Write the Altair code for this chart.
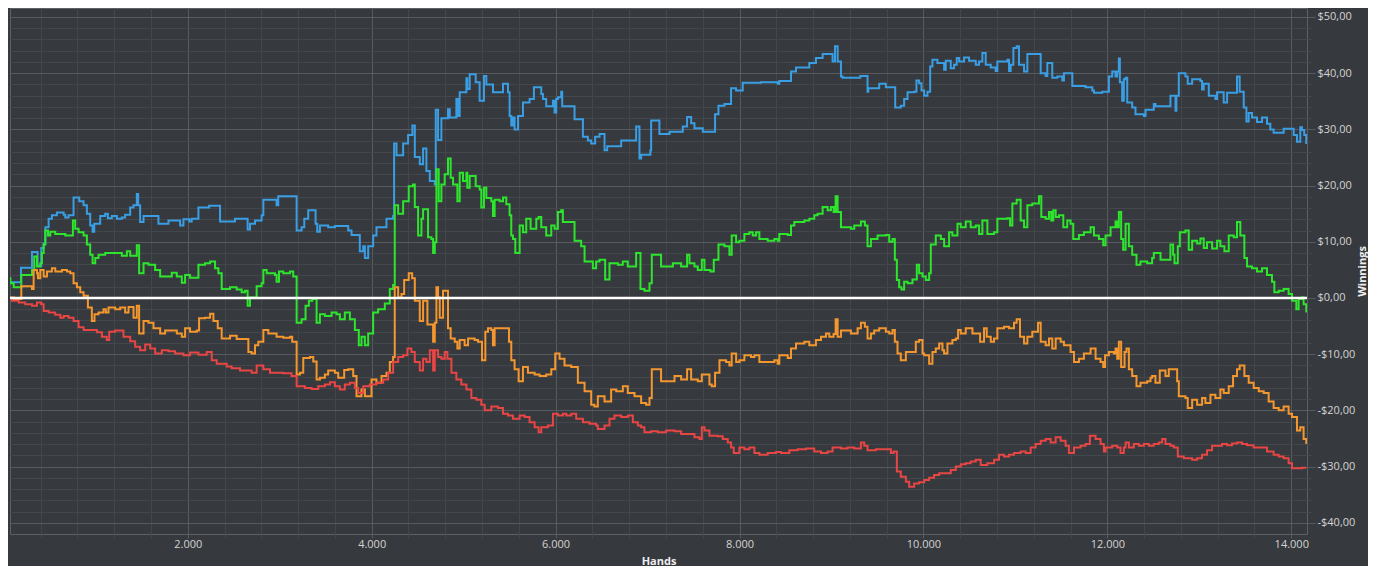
import altair as alt
import pandas as pd

# ---- data (hands, winnings in $) ----
BLUE = [(15,2.8),(186,5.4),(306,8.2),(367,5.7),(407,8.9),(433,9.7),(451,12.6),(487,14.1),(523,14.7),(577,15.2),(650,14.8),(668,14.3),(704,14.7),(758,17.9),(820,17.2),(867,16.5),(903,15.0),(939,12.9),(965,11.8),(983,13.2),(1048,14.6),(1102,15.0),(1131,14.2),(1175,14.6),(1229,14.1),(1283,14.3),(1319,14.8),(1374,16.1),(1410,16.5),(1446,18.5),(1461,16.5),(1482,13.5),(1519,14.6),(1681,13.2),(1790,13.8),(1917,12.9),(1953,14.0),(2018,13.6),(2043,14.1),(2116,16.1),(2232,16.4),(2351,13.6),
(2514,14.1),(2651,12.2),(2677,13.2),(2731,13.8),(2803,14.7),(2822,17.5),(2966,16.5),(2984,18.1),(3184,12.0),(3238,12.6),(3267,14.1),(3310,15.6),(3390,13.2),(3408,11.8),(3437,12.9),(3527,12.6),(3600,12.8),(3745,12.0),(3781,11.2),(3871,8.3),(3908,9.2),(3926,7.1),(3962,9.2),(4016,11.1),(4052,12.6),(4161,14.1),(4233,14.6),(4244,27.5),(4270,25.4),(4342,27.5),(4396,29.0),(4443,30.7),(4469,25.1),(4523,23.8),(4559,26.6),(4595,22.6),(4632,20.8),(4686,20.2),(4697,33.5),(4722,28.1),(4758,32.0),
(4830,33.6),(4849,32.1),(4921,35.4),(4939,32.4),(4957,36.6),(5030,39.1),(5040,37.2),(5066,39.8),(5131,38.4),(5174,35.1),(5221,39.5),(5247,38.0),(5319,36.6),(5428,38.1),(5482,36.6),(5500,32.4),(5518,30.7),(5536,32.1),(5554,30.0),(5591,32.4),(5645,34.8),(5717,35.4),(5764,37.5),(5844,36.3),(5862,35.4),(5898,34.1),(5971,35.1),(5989,33.0),(6007,35.4),(6025,35.7),(6061,36.7),(6072,34.1),(6206,31.8),(6297,28.7),(6351,28.0),(6387,27.5),(6430,28.7),(6478,29.2),(6532,26.3),(6561,27.0),(6713,28.0),(6876,30.5),(6912,24.8),(6930,25.5),(7031,26.3),(7039,31.6),(7129,29.2),
(7239,29.6),(7383,30.5),(7430,32.2),(7474,31.1),(7510,30.2),(7601,29.6),(7734,32.7),(7771,34.2),(7836,34.5),(7908,37.3),(7963,36.9),(8035,38.3),(8234,38.4),(8415,38.1),(8433,38.6),(8560,40.3),(8614,41.0),(8759,41.8),(8831,42.7),(8904,43.4),(9012,42.1),(9038,44.8),(9067,42.1),(9103,39.4),(9121,39.2),(9313,39.5),(9392,36.7),(9400,37.3),(9519,38.1),
(9591,37.5),(9693,33.9),(9754,34.2),(9790,35.4),(9827,36.6),(9899,36.7),(9924,38.7),(9953,38.2),(9979,36.9),(10008,36.0),(10044,36.7),(10073,41.2),(10098,42.4),(10152,41.8),(10225,40.6),(10243,42.2),(10297,40.9),(10333,41.5),(10362,42.7),(10388,42.1),(10442,42.8),(10496,42.2),(10569,41.5),(10605,42.1),(10641,43.6),(10677,41.5),(10732,41.0),(10786,40.4),(10804,42.1),(10913,42.4),(10931,40.4),(10949,41.5),(10978,44.5),(11014,44.8),(11039,41.5),(11094,40.3),(11130,43.4),(11257,43.4),(11275,40.0),(11329,39.5),(11347,41.8),(11401,39.2),(11456,39.4),(11510,38.7),(11528,40.0),(11619,37.7),(11763,37.5),(11836,36.9),(11854,36.5),(11944,36.7),
(12017,39.4),(12053,40.3),(12089,39.4),(12107,40.3),(12125,42.6),(12136,38.4),(12161,35.1),(12179,38.9),(12198,39.2),(12216,34.8),(12270,33.9),(12306,32.7),(12397,32.4),(12415,33.5),(12505,34.5),(12523,34.1),(12686,36.0),(12741,33.3),(12751,36.0),(12777,40.0),(12849,39.4),(12874,38.1),(12922,38.9),(13012,38.6),(13030,37.1),(13048,38.1),(13103,36.0),(13175,35.4),(13193,36.6),(13265,34.8),(13302,36.5),(13410,39.4),(13439,36.7),(13483,33.9),(13512,31.4),(13537,32.9),(13573,32.1),(13627,31.3),(13682,32.1),(13736,31.0),(13772,30.0),(13808,29.4),(13917,30.1),(14026,29.0),(14062,27.8),(14098,30.4),(14116,29.9),(14141,29.0),(14163,27.4)]

GREEN = [(15,3.5),(71,2.6),(107,1.9),(190,4.1),(306,5.0),(331,7.4),(360,5.6),(396,6.2),(414,8.0),(433,9.5),(451,12.0),(480,11.1),(505,11.8),(559,11.4),(668,11.1),(751,13.8),(776,12.3),(813,11.7),(867,11.1),(903,9.5),(939,7.7),(965,6.2),(994,7.1),(1030,7.7),(1102,8.0),(1283,7.5),(1338,8.3),(1374,7.5),(1446,9.4),(1471,4.4),(1519,6.2),(1573,5.9),(1645,5.0),(1700,3.8),(1826,4.5),(1881,3.8),(1935,2.7),(1971,4.1),(2025,3.6),(2116,5.9),(2188,6.2),(2243,6.5),(2297,5.3),(2333,4.4),(2369,1.6),
(2460,1.9),(2532,1.5),(2586,1.0),(2622,1.3),(2651,-1.4),(2677,0.1),(2749,2.1),(2803,2.6),(2822,5.0),(2858,4.4),(2948,4.1),(2966,2.9),(2992,4.7),(3039,4.4),(3111,4.7),(3147,3.8),(3184,-4.4),(3238,-3.8),(3281,-1.4),(3317,-0.5),(3354,-0.2),(3401,-4.4),(3437,-2.9),(3491,-3.2),(3564,-2.6),(3618,-2.9),(3654,-3.8),(3708,-2.6),(3763,-3.8),(3817,-5.7),(3860,-8.4),(3889,-6.9),(3926,-8.4),(3962,-6.3),(4016,-2.6),(4070,-2.0),(4143,-1.0),(4197,1.6),(4233,2.3),(4251,16.5),(4288,15.0),(4342,17.2),(4403,19.9),(4450,20.2),(4469,16.2),(4505,11.1),(4541,14.1),(4559,15.8),(4613,10.8),(4650,10.5),(4668,8.0),(4686,9.9),(4704,22.9),(4729,17.2),(4758,20.2),(4794,22.0),
(4830,24.8),(4859,21.4),(4885,20.2),(4932,17.2),(4957,22.3),(4993,20.8),(5030,22.3),(5040,19.6),(5066,21.7),(5131,19.9),(5174,19.3),(5192,16.1),(5221,19.6),(5247,17.8),(5301,17.2),(5319,14.6),(5337,17.5),(5392,17.2),(5428,17.9),(5464,16.7),(5500,14.7),(5518,11.1),(5536,10.5),(5562,8.0),(5609,12.9),(5645,11.7),(5681,14.1),(5728,12.3),(5790,14.1),(5815,14.4),(5844,12.6),(5898,11.1),(5953,12.9),(5989,12.3),(6025,15.3),(6061,15.6),(6079,13.5),(6206,10.2),(6278,9.2),(6315,6.5),(6405,5.3),(6441,6.5),(6478,6.8),(6539,3.3),(6586,6.2),(6677,5.9),(6731,6.5),(6785,5.6),(6876,8.0),(6923,1.6),(6966,1.3),(7021,2.6),(7046,7.7),(7147,5.6),
(7275,6.2),(7365,5.6),(7430,7.7),(7456,6.2),(7510,5.6),(7546,5.0),(7590,6.8),(7619,5.0),(7684,4.7),(7720,6.8),(7771,9.5),(7836,9.2),(7890,7.7),(7915,11.1),(7963,9.9),(7999,10.2),(8053,11.4),(8107,11.7),(8144,11.1),(8180,11.7),(8216,10.5),(8306,10.2),(8379,10.5),(8415,10.2),(8433,11.4),(8524,11.2),(8560,12.9),(8596,13.5),(8705,13.8),(8759,14.1),(8813,14.7),(8849,15.0),(8904,16.2),(8958,15.6),(8994,16.2),(9023,15.3),(9045,18.1),(9067,15.3),(9103,12.6),(9211,12.3),(9248,12.9),(9320,13.6),(9363,12.9),(9392,9.2),(9429,10.5),(9501,11.1),
(9591,11.2),(9628,10.0),(9664,10.5),(9689,6.8),(9711,3.2),(9736,1.9),(9761,1.5),(9790,2.9),(9827,2.6),(9881,3.3),(9928,5.9),(9953,4.4),(9990,3.8),(10026,3.2),(10062,4.4),(10080,9.5),(10134,11.1),(10189,10.5),(10225,9.2),(10279,11.7),(10315,11.1),(10370,13.2),(10406,12.6),(10460,13.6),(10514,12.6),(10569,12.9),(10605,11.4),(10641,13.8),(10695,11.4),(10768,11.7),(10804,14.1),(10913,14.2),(10942,12.9),(10967,16.8),(11014,17.5),(11057,13.8),(11094,12.6),(11130,16.5),(11184,16.8),(11257,18.1),(11282,14.4),(11329,14.1),(11365,15.3),(11390,13.8),(11412,15.6),(11438,14.4),(11474,14.7),(11521,12.6),(11564,13.8),(11600,13.2),(11629,10.5),(11691,11.2),(11745,11.7),(11818,12.6),(11854,11.1),(11908,10.5),(11955,9.4),
(11980,11.1),(12035,12.6),(12089,13.6),(12107,12.6),(12125,15.3),(12150,10.5),(12172,8.6),(12198,13.2),(12234,9.2),(12270,7.7),(12317,5.9),(12360,6.5),(12433,6.2),(12487,7.1),(12505,8.0),(12578,6.8),(12686,9.5),(12715,7.7),(12730,6.2),(12766,9.2),(12788,11.7),(12849,12.0),(12885,8.6),(12922,10.2),(12976,9.7),(13012,10.6),(13048,8.9),(13084,9.9),(13139,8.8),(13193,10.2),(13229,9.2),(13273,8.3),(13320,11.1),(13374,10.8),(13410,13.5),(13446,11.1),(13490,7.1),(13519,5.6),(13573,5.3),(13627,4.7),(13682,5.3),(13736,4.1),(13790,2.9),(13816,1.0),(13863,1.3),(13917,1.6),(13971,0.7),(14008,-0.5),(14055,-2.0),(14080,-0.2),(14116,0.1),(14134,-1.1),(14163,-2.6)]

ORANGE = [(15,-0.8),(52,0.1),(107,-0.2),(190,2.1),(306,1.6),(324,5.0),(360,4.4),(371,3.5),(396,5.0),(433,3.8),(469,4.7),(523,5.3),(559,4.7),(632,5.0),(686,4.7),(722,4.4),(758,2.6),(795,1.9),(831,1.0),(867,0.4),(914,-1.7),(957,-4.1),(986,-2.9),(1030,-2.6),(1084,-2.0),(1109,-2.6),(1138,-1.7),(1211,-2.0),(1265,-1.7),(1319,-2.6),(1356,-1.6),(1410,-3.5),(1446,-1.4),(1471,-6.3),(1519,-4.1),(1573,-4.4),(1627,-5.4),(1700,-6.3),(1754,-5.8),(1881,-6.3),(1935,-6.9),(1971,-5.4),(2025,-6.0),(2098,-5.8),(2123,-3.6),(2188,-3.5),(2243,-2.8),(2279,-4.1),(2326,-5.4),(2369,-7.2),
(2460,-6.7),(2532,-7.3),(2659,-9.6),(2695,-9.9),(2731,-8.4),(2767,-7.8),(2822,-5.7),(2876,-6.3),(2966,-6.9),(3039,-7.1),(3111,-6.9),(3136,-7.8),(3184,-13.6),(3220,-13.3),(3256,-10.7),(3328,-10.5),(3365,-11.3),(3401,-14.5),(3437,-14.2),(3491,-13.6),(3527,-12.9),(3600,-13.3),(3636,-14.2),(3701,-12.8),(3745,-12.7),(3799,-13.9),(3835,-17.5),(3889,-16.3),(3926,-17.5),(3998,-14.5),(4052,-15.1),(4107,-13.9),(4161,-13.3),(4197,-11.4),(4233,-10.5),(4251,1.9),(4288,0.1),(4324,0.7),(4353,3.2),(4403,4.4),(4440,3.5),(4469,-0.5),(4523,-4.1),(4559,-0.5),(4606,-4.7),(4668,-7.8),(4686,-4.4),(4704,1.9),(4722,0.1),(4740,-3.5),(4776,1.3),
(4830,-5.4),(4859,-7.2),(4903,-7.8),(4932,-9.0),(4957,-7.5),(5011,-8.4),(5048,-7.2),(5120,-7.5),(5156,-7.8),(5200,-11.1),(5236,-6.0),(5265,-5.4),(5301,-5.7),(5319,-8.4),(5337,-5.4),(5464,-5.4),(5493,-7.8),(5518,-11.1),(5554,-12.7),(5598,-14.8),(5645,-12.3),(5699,-13.3),(5772,-13.6),(5826,-13.9),(5898,-13.6),(5953,-12.7),(5996,-9.9),(6043,-10.8),(6097,-12.0),(6170,-12.3),(6242,-15.1),(6315,-16.6),(6387,-19.0),(6423,-19.3),(6459,-17.5),(6532,-18.4),(6604,-16.3),(6659,-16.6),(6731,-15.7),(6785,-16.9),(6858,-17.5),(6930,-18.7),(6984,-19.0),(7021,-17.8),(7046,-12.7),(7147,-14.8),
(7293,-13.9),(7365,-14.5),(7430,-12.7),(7474,-14.5),(7546,-14.8),(7590,-13.6),(7673,-15.4),(7698,-15.7),(7734,-13.3),(7782,-11.1),(7854,-11.4),(7890,-12.0),(7915,-9.9),(7963,-11.4),(7999,-11.1),(8053,-10.2),(8125,-10.5),(8162,-10.2),(8216,-11.4),(8379,-11.1),(8415,-11.7),(8433,-10.2),(8524,-10.7),(8560,-9.0),(8614,-8.1),(8705,-7.8),(8759,-8.4),(8831,-7.5),(8886,-6.9),(8940,-6.3),(8976,-6.9),(9023,-6.4),(9045,-3.8),(9067,-6.9),(9103,-5.8),(9211,-6.3),(9284,-5.4),(9320,-4.4),(9363,-5.1),(9392,-7.2),(9429,-6.3),(9465,-5.8),(9519,-5.4),
(9591,-6.0),(9628,-6.3),(9664,-5.7),(9689,-7.8),(9718,-9.9),(9754,-11.1),(9809,-9.6),(9917,-7.8),(9953,-7.5),(9990,-9.9),(10008,-10.2),(10062,-11.7),(10098,-9.6),(10134,-9.0),(10171,-8.1),(10207,-9.3),(10225,-9.9),(10261,-8.1),(10315,-7.5),(10352,-7.2),(10377,-5.7),(10406,-6.3),(10460,-5.4),(10533,-6.3),(10616,-7.8),(10659,-5.4),(10688,-6.9),(10732,-7.8),(10768,-7.2),(10804,-5.4),(10876,-5.1),(10931,-5.4),(10985,-4.4),(11014,-3.8),(11050,-6.9),(11094,-8.1),(11130,-6.9),(11184,-6.0),(11246,-4.4),(11275,-7.8),(11329,-8.4),(11365,-7.2),(11401,-9.0),(11438,-7.2),(11492,-7.8),(11528,-8.4),(11600,-9.6),(11637,-11.4),(11691,-10.8),(11745,-9.9),(11818,-9.0),(11872,-10.8),(11926,-11.4),(11955,-12.3),
(11975,-10.2),(12017,-9.6),(12071,-9.9),(12089,-9.0),(12107,-10.8),(12125,-7.8),(12150,-12.3),(12187,-9.6),(12208,-9.0),(12234,-12.7),(12270,-13.9),(12317,-15.7),(12360,-15.1),(12433,-14.8),(12469,-14.2),(12487,-13.9),(12523,-15.1),(12570,-12.9),(12632,-13.9),(12668,-12.7),(12759,-14.8),(12777,-17.5),(12849,-17.8),(12874,-19.6),(12922,-18.1),(12976,-19.0),(13030,-17.8),(13066,-18.7),(13121,-17.2),(13175,-17.8),(13229,-16.3),(13265,-16.9),(13320,-15.7),(13367,-13.9),(13410,-12.7),(13439,-12.0),(13490,-13.9),(13537,-15.1),(13591,-16.0),(13646,-16.6),(13700,-16.9),(13754,-18.4),(13808,-19.6),(13863,-20.0),(13917,-19.3),(13971,-20.6),(14008,-21.2),(14062,-23.6),(14098,-23.0),(14134,-25.1),(14163,-26.0)]

RED = [(15,0.0),(89,-0.5),(161,-0.8),(233,-1.1),(306,-1.4),(360,-0.8),(407,-1.1),(433,-2.3),(487,-2.6),(559,-3.0),(614,-3.5),(650,-3.2),(704,-3.5),(758,-4.1),(813,-5.2),(867,-5.7),(1012,-6.1),(1066,-6.9),(1120,-7.5),(1146,-6.0),(1211,-5.8),(1301,-6.9),(1374,-7.7),(1428,-8.7),(1482,-9.3),(1537,-8.3),(1591,-9.0),(1645,-9.9),(1718,-9.3),(1790,-9.5),(1862,-9.9),(1953,-10.2),(2025,-9.7),(2116,-10.1),(2206,-9.6),(2261,-11.1),(2315,-11.7),(2424,-12.2),
(2478,-12.5),(2568,-12.9),(2695,-13.3),(2749,-12.0),(2822,-12.7),(2894,-13.3),(3039,-13.4),(3129,-13.9),(3184,-15.7),(3274,-16.0),(3346,-16.2),(3419,-15.7),(3491,-15.4),(3546,-15.0),(3600,-15.7),(3654,-16.3),(3708,-15.4),(3763,-15.1),(3817,-16.0),(3853,-16.9),(3908,-15.7),(3980,-15.4),(4052,-15.1),(4125,-14.5),(4179,-13.3),(4233,-11.4),(4288,-10.5),(4342,-10.2),(4389,-9.0),(4432,-9.6),(4469,-11.4),(4523,-12.9),(4559,-10.8),(4595,-11.4),(4632,-9.3),(4668,-12.9),(4686,-9.3),(4722,-10.5),(4758,-10.8),
(4794,-9.6),(4823,-10.8),(4867,-13.3),(4921,-14.5),(4975,-15.4),(5030,-16.3),(5084,-17.8),(5138,-18.1),(5192,-19.0),(5229,-20.0),(5301,-19.3),(5373,-19.6),(5428,-20.6),(5482,-20.9),(5536,-21.5),(5609,-20.9),(5663,-21.2),(5717,-22.1),(5772,-23.0),(5815,-23.9),(5844,-23.0),(5916,-22.7),(5971,-20.6),(6025,-20.9),(6079,-20.6),(6116,-20.9),(6170,-20.6),(6224,-21.5),(6297,-22.1),(6369,-22.4),(6441,-22.7),(6459,-23.3),(6532,-22.7),(6586,-21.5),(6640,-20.9),(6713,-21.2),(6785,-20.9),(6840,-22.1),(6894,-22.7),(6930,-23.0),(6966,-23.9),(7039,-23.7),(7111,-23.9),(7202,-23.6),
(7293,-23.7),(7365,-24.2),(7510,-24.8),(7564,-25.1),(7590,-23.0),(7619,-23.6),(7673,-24.5),(7763,-24.6),(7818,-25.1),(7872,-25.7),(7908,-26.6),(7937,-27.6),(7999,-26.6),(8053,-26.9),(8107,-26.6),(8162,-27.6),(8216,-27.9),(8306,-27.6),(8397,-27.4),(8451,-27.6),(8542,-27.1),(8632,-26.9),(8723,-26.8),(8813,-27.3),(8886,-27.6),(8958,-27.3),(9012,-26.6),(9103,-26.8),(9175,-26.6),(9248,-26.8),(9320,-25.7),(9356,-26.3),(9392,-27.1),(9483,-26.9),
(9591,-26.9),(9646,-27.6),(9675,-27.3),(9711,-30.9),(9754,-31.8),(9809,-32.7),(9845,-33.6),(9899,-33.0),(9953,-32.8),(10008,-32.4),(10062,-32.0),(10116,-31.5),(10171,-31.2),(10297,-30.6),(10352,-30.0),(10406,-29.6),(10460,-29.4),(10514,-29.1),(10569,-28.8),(10623,-29.7),(10695,-29.4),(10768,-28.8),(10822,-27.9),(10876,-28.2),(10931,-27.9),(10985,-27.6),(11057,-27.3),(11112,-27.6),(11166,-26.6),(11220,-26.0),(11275,-25.4),(11329,-25.1),(11383,-25.7),(11438,-24.8),(11492,-25.4),(11546,-26.3),(11582,-27.6),(11637,-26.6),(11709,-26.3),(11763,-26.0),(11810,-24.5),(11872,-25.1),(11926,-26.0),(11962,-27.3),
(11980,-26.6),(12053,-26.3),(12107,-26.6),(12143,-27.6),(12179,-26.6),(12198,-25.7),(12234,-26.6),(12288,-26.0),(12342,-26.3),(12397,-26.0),(12451,-26.3),(12505,-26.0),(12560,-25.7),(12596,-25.1),(12632,-26.0),(12686,-26.3),(12722,-26.6),(12766,-28.2),(12831,-28.5),(12922,-28.8),(12976,-28.5),(13030,-27.9),(13084,-27.1),(13139,-26.3),(13247,-26.0),(13302,-26.2),(13356,-25.9),(13410,-25.7),(13465,-26.0),(13519,-26.2),(13591,-26.6),(13664,-26.6),(13736,-27.3),(13808,-27.9),(13863,-28.2),(13917,-28.5),(13971,-29.4),(14008,-30.3),(14062,-30.3),(14116,-30.2),(14163,-30.2)]

SERIES_NAMES = ["green", "orange", "red", "blue"]
SERIES_COLORS = ["#2ee52e", "#f5972f", "#e84545", "#3a9ee4"]
X_TICKS = list(range(400, 14001, 400))
Y_TICKS = list(range(-40, 51, 2))
X_DOMAIN = [67, 14171]
Y_DOMAIN = [-42.0, 51.6]
ZERO = [0]

BG = "#36393d"
GRID_MINOR = "#43474b"
GRID_MAJOR = "#575b5f"
TEXT = "#d4d4d4"
FONT = "Open Sans"

rows = []
for name, pts in zip(["blue", "green", "orange", "red"], [BLUE, GREEN, ORANGE, RED]):
    for h, w in pts:
        rows.append({"series": name, "hands": h, "winnings": w})
df = pd.DataFrame(rows)

x_axis = alt.Axis(
    values=X_TICKS,
    grid=True,
    gridColor={"condition": {"test": "datum.value % 2000 === 0", "value": GRID_MAJOR}, "value": GRID_MINOR},
    gridWidth=1,
    tickColor={"condition": {"test": "datum.value % 2000 === 0", "value": GRID_MAJOR}, "value": GRID_MINOR},
    tickSize=4,
    domain=False,
    labelExpr="datum.value % 2000 === 0 ? replace(format(datum.value, ','), ',', '.') : ''",
    labelOverlap=False,
    labelFlush=False,
    labelColor=TEXT,
    labelFont=FONT,
    labelFontSize=11,
    labelPadding=0,
    title="Hands",
    titleColor="#eeeeee",
    titleFont=FONT,
    titleFontSize=11,
    titleFontWeight="bold",
    titlePadding=6,
)

y_axis = alt.Axis(
    orient="right",
    values=Y_TICKS,
    grid=True,
    gridColor={"condition": {"test": "datum.value % 10 === 0", "value": GRID_MAJOR}, "value": GRID_MINOR},
    gridWidth=1,
    tickColor={"condition": {"test": "datum.value % 10 === 0", "value": GRID_MAJOR}, "value": GRID_MINOR},
    tickSize={"condition": {"test": "datum.value % 10 === 0", "value": 8}, "value": 4},
    domain=False,
    labelExpr="datum.value % 10 === 0 ? (datum.value < 0 ? '-$' : '$') + replace(format(abs(datum.value), '.2f'), '.', ',') : ''",
    labelOverlap=False,
    labelFlush=False,
    labelColor=TEXT,
    labelFont=FONT,
    labelFontSize=11,
    labelPadding=2,
    title="Winnings",
    titleColor="#eeeeee",
    titleFont=FONT,
    titleFontSize=11,
    titleFontWeight="bold",
    titleAngle=270,
    titlePadding=13,
)

X = alt.X("hands:Q", scale=alt.Scale(domain=X_DOMAIN, nice=False, zero=False), axis=x_axis)
Y = alt.Y("winnings:Q", scale=alt.Scale(domain=Y_DOMAIN, nice=False, zero=False), axis=y_axis)
C = alt.Color("series:N", scale=alt.Scale(domain=SERIES_NAMES, range=SERIES_COLORS), legend=None)

lines = alt.Chart(df).mark_line(
    interpolate="step-after", strokeWidth=2, clip=True
).encode(x=X, y=Y, color=C)
zero = alt.Chart(pd.DataFrame({"winnings": ZERO})).mark_rule(
    color="#ffffff", strokeWidth=2.5
).encode(y=Y)

chart = alt.layer(lines, zero).properties(
    width=1360,
    height=558,
    autosize=alt.AutoSizeParams(type="fit", contains="padding"),
    padding=0,
    background=BG,
).configure_view(stroke="#5d6165", strokeWidth=1)

chart.save("out.html", embed_options={"renderer": "svg", "actions": False})
